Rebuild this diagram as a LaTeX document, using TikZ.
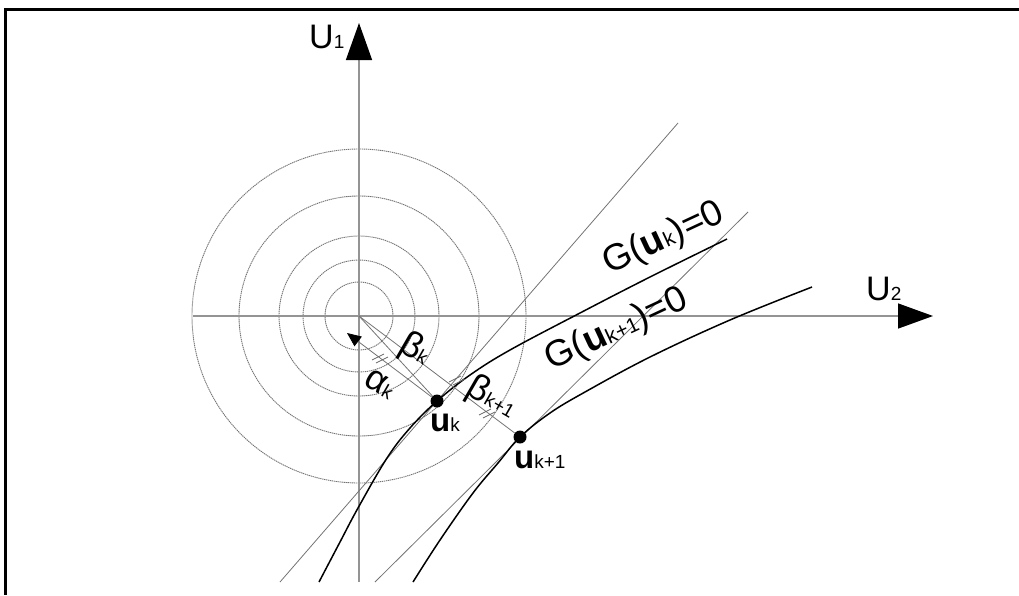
\documentclass[tikz,border=0pt]{standalone}
\usepackage{fontspec}
\setmainfont{Liberation Sans}
\usetikzlibrary{arrows.meta}
\newcommand\fs[1]{\fontsize{#1}{#1}\selectfont}
\newcommand\sbs[1]{{\fs{19}#1}}
\newcommand\gsbs[1]{{\fs{21}#1}}
\begin{document}
\begin{tikzpicture}[x=1pt,y=-1pt,
  axisline/.style={draw=black!42, line width=1.4pt},
  tline/.style={draw=black!55, line width=0.8pt},
  gcurve/.style={draw=black, line width=1.5pt},
  ring/.style={draw=black!55, line width=0.9pt, dash pattern=on 1.3pt off 0.7pt},
  udot/.style={circle, fill=black, inner sep=0pt, minimum size=13pt},
  lbl/.style={inner sep=0pt, font=\fs{34}},
  glbl/.style={inner sep=0pt, font=\fs{37}},
  ulbl/.style={inner sep=0pt, font=\fs{33}},
  grk/.style={inner sep=0pt, font=\fs{36}},
  tick/.style={draw=black!60, line width=0.8pt}]
\useasboundingbox (0,0) rectangle (1019,595);
% frame
\draw[line width=3pt] (1019,9.5) -- (5.5,9.5) -- (5.5,595);
% points
\coordinate (O) at (359,316);
\coordinate (v0) at (359,582);
\coordinate (v1) at (359,23);
\coordinate (h0) at (193,316);
\coordinate (h1) at (933,316);
\coordinate (a0) at (280,582);
\coordinate (a1) at (678,123);
\coordinate (b0) at (375,582);
\coordinate (b1) at (748,212);
\coordinate (atip) at (347,333);
% circles
\foreach \r in {34,56,80,120,167} \draw[ring] (O) circle[radius=\r pt];
% axes
\draw[axisline, -{Triangle[length=37pt,width=26pt,color=black]}] (v0) -- (v1);
\draw[axisline, -{Triangle[length=35pt,width=25pt,color=black]}] (h0) -- (h1);
% tangent lines
\draw[tline] (a0) -- (a1);
\draw[tline] (b0) -- (b1);
% limit state curves
\draw[gcurve] plot[smooth, tension=0.6] coordinates {(319,582) (340,542) (358,508) (387,458) (410,428) (437,401) (470,375) (510,350) (580,313) (650,277) (727,239)};
\draw[gcurve] plot[smooth, tension=0.6] coordinates {(413,582) (440,540) (473,493) (498,463) (520,437) (550,413) (585,392) (650,357) (730,320) (812,287)};
% points
\node[udot] (uk) at (437,401) {};
\node[udot] (uk1) at (520,437) {};
% rays
\draw[tline] (O) -- (uk);
\draw[tline] (O) -- (uk1);
\draw[tline, -{Triangle[length=14pt,width=12pt,color=black]}] (uk) -- (atip);
% tick marks
\foreach \cx/\cy in {380/358,487/413,457/380} {
  \begin{scope}[shift={(\cx,\cy)}]
    \draw[tick] (-8,2) -- (4,-4);
    \draw[tick] (-4,5) -- (8,-1);
  \end{scope}
}
% labels
\node[lbl, anchor=base west] (U1) at (309,48) {U\sbs{1}};
\node[lbl, anchor=base west] (U2) at (866,300) {U\sbs{2}};
\node[glbl, rotate=25] (Gk) at (664,239) {G(\textbf{u}\gsbs{k})=0};
\node[glbl, rotate=25] (Gk1) at (617,330) {G(\textbf{u}\gsbs{k+1})=0};
\node[ulbl, anchor=base west] (ulk) at (430,431) {\textbf{u}\sbs{k}};
\node[ulbl, anchor=base west] (ulk1) at (514,468) {\textbf{u}\sbs{k+1}};
\node[grk, rotate=-30] (bk) at (415,350) {β\sbs{k}};
\node[grk, rotate=-30] (bk1) at (492,398) {β\sbs{k+1}};
\node[grk, rotate=-30] (ak) at (380,384) {α\sbs{k}};
\end{tikzpicture}
\end{document}
